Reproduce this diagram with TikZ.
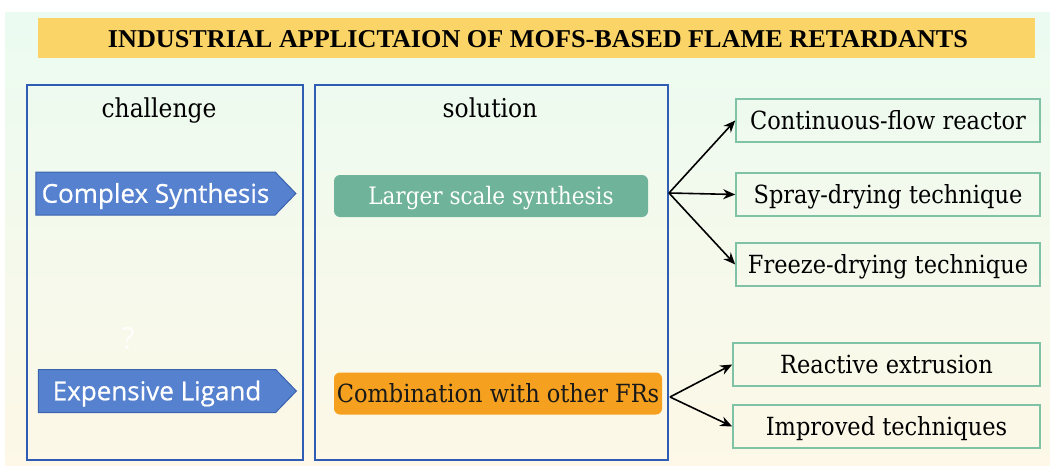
\documentclass[tikz,border=0pt]{standalone}
\usepackage{fontspec}
\setmainfont{DejaVu Serif Condensed}
\newfontfamily\titlefont{Liberation Serif}
\newfontfamily\arrowfont[FakeBold=0.6]{Open Sans}
\usetikzlibrary{shapes.symbols,arrows.meta}
\definecolor{bgtop}{HTML}{EBFBF1}
\definecolor{bgbot}{HTML}{FDF8E7}
\definecolor{titley}{HTML}{FAD466}
\definecolor{frameblue}{HTML}{2F5DB3}
\definecolor{arrowblue}{HTML}{5581CF}
\definecolor{arrowedge}{HTML}{3C64AE}
\definecolor{tealfill}{HTML}{6FB39A}
\definecolor{orangefill}{HTML}{F5A11F}
\definecolor{boxgreen}{HTML}{80C2A6}
\tikzset{
  frame/.style={draw=frameblue, line width=2pt, inner sep=0pt},
  heading/.style={anchor=base, font=\fontsize{26}{30}\selectfont},
  chalarrow/.style={signal, signal to=east, signal pointer angle=92,
    fill=arrowblue, draw=arrowedge, line width=1pt, minimum height=43pt,
    minimum width=260pt, text=white, inner sep=0pt,
    text height=18.5pt, text depth=0pt,
    font=\arrowfont\fontsize{26}{30}\selectfont},
  solbox/.style={rounded corners=6pt, minimum height=42pt, inner sep=0pt,
    text height=18pt, text depth=0pt,
    font=\fontsize{25}{29}\selectfont},
  outbox/.style={draw=boxgreen, line width=1.6pt, minimum height=43pt,
    inner sep=0pt, text height=18pt, text depth=0pt,
    font=\fontsize{25}{29}\selectfont},
  conn/.style={line width=1.6pt, -{Stealth[length=12pt,width=10pt]}}
}
\begin{document}
\begin{tikzpicture}[x=1pt,y=-1pt]
\useasboundingbox (0,0) rectangle (1050,466);
\fill[white] (0,0) rectangle (1050,466);
\shade[top color=bgtop, bottom color=bgbot] (5,12) rectangle (1050,466);
\node[fill=titley, minimum width=997pt, minimum height=40pt, inner sep=0pt] (title) at (536.5,38) {};
\node (titletext) at (538,39.5) {\resizebox{860pt}{17pt}{\titlefont\bfseries INDUSTRIAL APPLICTAION OF MOFS-BASED FLAME RETARDANTS}};
% frames
\node[frame, minimum width=276pt, minimum height=375pt] (chal) at (165,272.5) {};
\node[frame, minimum width=353pt, minimum height=375pt] (sol) at (491.5,272.5) {};
\node[heading] (chalhead) at (159,117) {challenge};
\node[heading] (solhead) at (490,117) {solution};
% challenge arrows
\node[chalarrow] (cs) at (155.5,193.5) {Complex Synthesis};
\node[chalarrow, minimum width=258pt] (el) at (157,391) {Expensive Ligand};
\node[text=white, opacity=0.8, font=\arrowfont\fontsize{30}{34}\selectfont] (q) at (128,338) {?};
% solutions
\node[solbox, fill=tealfill, text=white, minimum width=314pt, text height=17.5pt, font=\fontsize{24}{28}\selectfont] (ls) at (491,196) {Larger scale synthesis};
\node[solbox, fill=orangefill, text=black!90, minimum width=328pt] (cb) at (498,393.5) {Combination with other FRs};
% outputs
\node[outbox, minimum width=304pt] (c1) at (888,120.5) {Continuous-flow reactor};
\node[outbox, minimum width=304pt] (c2) at (888,194.5) {Spray-drying technique};
\node[outbox, minimum width=304pt] (c3) at (888,264.5) {Freeze-drying technique};
\node[outbox, minimum width=307pt] (r1) at (886.5,364.5) {Reactive extrusion};
\node[outbox, minimum width=307pt] (r2) at (886.5,426.5) {Improved techniques};
% connectors
\coordinate (s1) at (669,193);
\coordinate (s2) at (670,397);
\draw[conn] (s1) -- (c1.west);
\draw[conn] (s1) -- (c2.west);
\draw[conn] (s1) -- (c3.west);
\draw[conn] (s2) -- (r1.west);
\draw[conn] (s2) -- (r2.west);
\end{tikzpicture}
\end{document}
